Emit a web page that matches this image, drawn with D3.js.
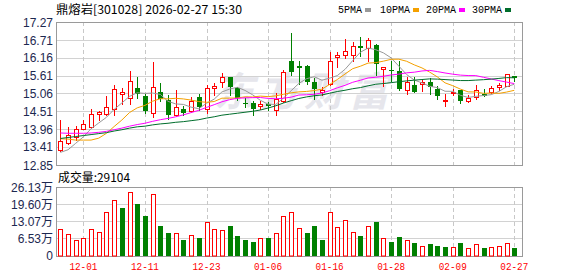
<!DOCTYPE html>
<html>
<head>
<meta charset="utf-8">
<script src="https://cdn.jsdelivr.net/npm/d3@7/dist/d3.min.js"></script>
<style>
  body { margin: 0; background: #fff; }
  svg { display: block; }
</style>
</head>
<body>
<svg id="chart" width="578" height="276"></svg>
<script>
// ---- data ----
const dates = ["11-26","11-27","11-28","12-01","12-02","12-03","12-04","12-05","12-08","12-09",
  "12-10","12-11","12-12","12-15","12-16","12-17","12-18","12-19","12-22","12-23",
  "12-24","12-25","12-26","12-29","12-30","12-31","01-05","01-06","01-07","01-08",
  "01-09","01-12","01-13","01-14","01-15","01-16","01-19","01-20","01-21","01-22",
  "01-23","01-26","01-27","01-28","01-29","01-30","02-02","02-03","02-04","02-05",
  "02-06","02-09","02-10","02-11","02-12","02-13","02-24","02-25","02-26","02-27"];

const opens = [13.31,13.53,13.72,13.96,14.02,14.42,14.42,14.57,15.05,14.91,
  15.22,14.98,14.47,15.11,14.87,14.38,14.58,14.52,14.95,14.58,
  15.22,15.40,15.56,15.23,14.77,14.76,14.68,14.74,14.54,14.82,
  16.07,15.92,15.91,15.40,15.12,15.34,16.19,16.24,16.24,16.52,
  16.48,16.55,15.82,15.80,15.76,15.16,15.33,15.35,15.40,15.21,
  14.82,15.06,15.18,14.82,14.95,15.04,15.10,15.25,15.28,15.60];
const highs = [14.24,14.03,14.06,14.24,14.59,14.52,14.98,15.31,15.23,15.76,
  15.58,15.04,16.03,15.38,15.01,15.18,14.68,14.96,15.03,15.33,
  15.37,15.70,15.58,15.25,14.92,14.84,14.84,14.79,15.08,15.79,
  16.92,16.07,15.94,15.54,15.26,16.33,16.33,16.74,16.65,16.82,
  16.77,16.58,15.87,16.05,16.05,15.58,15.58,15.48,15.54,15.28,
  15.04,15.20,15.18,15.00,15.31,15.20,15.28,15.39,15.65,15.60];
const lows = [13.28,13.50,13.61,13.96,14.00,14.24,14.41,14.38,14.74,14.75,
  14.93,14.46,14.33,14.82,14.28,14.36,14.41,14.50,14.56,14.46,
  15.00,15.27,15.01,14.87,14.64,14.38,14.59,14.56,14.41,14.80,
  15.62,15.36,15.36,14.88,15.00,15.32,15.88,16.15,16.07,16.22,
  16.08,15.64,15.30,15.44,15.16,15.04,15.12,15.13,15.04,14.90,
  14.68,15.00,14.78,14.79,14.88,14.99,15.08,15.18,15.28,15.45];
const closes = [13.59,13.77,13.96,14.12,14.42,14.48,14.64,15.19,15.11,15.44,
  15.04,14.53,15.25,14.89,14.38,14.64,14.45,14.83,14.65,15.22,
  15.28,15.56,15.27,14.93,14.74,14.59,14.72,14.67,14.89,15.72,
  15.73,15.84,15.41,15.19,15.18,16.05,16.24,16.37,16.54,16.48,
  16.70,15.98,15.87,15.77,15.20,15.42,15.12,15.43,15.25,14.99,
  14.86,15.10,14.82,14.92,15.16,14.99,15.23,15.32,15.65,15.54];

// volume in 万 shares, and whether the bar is drawn as an up (red) day
const volumes = [10.25,8.2,6.1,6.5,10.25,9.1,16.7,21.3,18.2,24.3,
  19.7,15.2,23.5,11.4,8.7,8.7,6.1,8.0,6.8,12.9,
  10.25,9.9,11.4,7.6,6.1,5.3,6.5,6.5,8.7,15.2,
  16.7,10.5,8.7,11.4,6.1,16.7,11.0,13.7,9.1,7.6,
  11.4,12.9,6.8,5.3,7.2,6.1,4.6,3.8,4.2,3.8,
  3.4,3.4,4.6,2.7,4.2,2.7,3.4,3.8,4.9,2.9104];
const volUp = [1,1,1,1,1,1,1,1,0,1, 0,0,1,0,0,1,0,1,0,1,
  1,1,0,0,0,0,1,0,1,1, 1,1,0,0,0,1,1,1,1,0,
  1,0,1,0,0,1,0,1,0,0, 0,1,0,1,1,0,1,1,1,0];

// moving average values before a full window exists (history off-screen)
const ma5Lead = [13.24,13.32,13.52,13.72];
const ma10Lead = [13.66,13.65,13.62,13.62,13.62,13.68,13.83,14.04,14.24];
const ma20Lead = [13.84,13.83,13.83,13.83,13.84,13.86,13.89,13.94,13.99,14.05,
  14.10,14.14,14.20,14.25,14.29,14.34,14.40,14.47,14.54];
const ma30Lead = [13.67,13.70,13.73,13.76,13.79,13.82,13.85,13.90,13.94,13.99,
  14.03,14.05,14.09,14.12,14.14,14.17,14.19,14.22,14.25,14.30,
  14.34,14.39,14.42,14.45,14.48,14.51,14.55,14.61,14.68];

const priceTicks = [17.27,16.71,16.16,15.61,15.06,14.51,13.96,13.41,12.85];
const volTicks = [0,6.53,13.07,19.60,26.13];
const dateTicks = ["12-01","12-11","12-23","01-06","01-16","01-28","02-09","02-27"];

const title = "鼎熔岩[301028] 2026-02-27 15:30";
const volTitle = "成交量:29104";
const maNames = ["5PMA","10PMA","20PMA","30PMA"];

// ---- layout ----
const RED = "#ff0000", GREEN = "#008000";
const maColors = ["#999999","#f4a000","#ff00ff","#006d2c"];
const plot = {left: 56, right: 522, top: 22, bottom: 165};
const vplot = {top: 187, bottom: 255.5};

const svg = d3.select("#chart");

const x = d3.scalePoint().domain(dates).range([plot.left + 4.3, plot.right - 7.7]);
const y = d3.scaleLinear().domain([12.85, 17.27]).range([plot.bottom, plot.top]);
const yv = d3.scaleLinear().domain([0, 26.13]).range([vplot.bottom, vplot.top]);

const px = d => Math.round(x(d));
const snap = v => Math.round(v) + 0.5;

// watermark
svg.append("text")
    .attr("x", 214).attr("y", 106)
    .attr("font-family", "Noto Sans CJK SC")
    .attr("font-size", 40)
    .attr("font-weight", "bold")
    .attr("font-style", "italic")
    .attr("letter-spacing", 5)
    .attr("fill", "#e6e6ec")
    .text("东方财富");

// grids
function drawGrid(top, bottom, ticks, scale) {
    svg.append("g").selectAll("line")
        .data(ticks.slice(1, -1))
        .join("line")
        .attr("x1", plot.left).attr("x2", plot.right)
        .attr("y1", d => snap(scale(d))).attr("y2", d => snap(scale(d)))
        .attr("stroke", "#d2d2d2");
    svg.append("g").selectAll("line")
        .data(dateTicks)
        .join("line")
        .attr("x1", d => px(d) + 0.5).attr("x2", d => px(d) + 0.5)
        .attr("y1", top).attr("y2", bottom)
        .attr("stroke", "#c8c8c8")
        .attr("stroke-dasharray", "4,3");
    svg.append("rect")
        .attr("x", plot.left + 0.5).attr("y", Math.round(top) + 0.5)
        .attr("width", plot.right - plot.left)
        .attr("height", Math.round(bottom) - Math.round(top))
        .attr("fill", "none")
        .attr("stroke", "#9a9a9a");
}
drawGrid(plot.top, plot.bottom, priceTicks, y);
drawGrid(vplot.top, vplot.bottom, volTicks.slice().reverse(), yv);

// axis labels
const labelFont = "Liberation Sans, Arial, sans-serif";
svg.append("g").selectAll("text")
    .data(priceTicks)
    .join("text")
    .attr("x", 53).attr("y", d => y(d) + 4.5)
    .attr("text-anchor", "end")
    .attr("font-family", labelFont).attr("font-size", 12)
    .attr("fill", "#1c2850")
    .text(d => d.toFixed(2));

svg.append("g").selectAll("text")
    .data(volTicks)
    .join("text")
    .attr("x", 53).attr("y", d => yv(d) + 4.5)
    .attr("text-anchor", "end")
    .attr("font-family", labelFont + ", Noto Sans CJK SC").attr("font-size", 12)
    .attr("fill", "#1c2850")
    .text(d => d === 0 ? "0" : d.toFixed(2) + "万");

svg.append("g").selectAll("text")
    .data(dateTicks)
    .join("text")
    .attr("x", d => x(d)).attr("y", 270)
    .attr("text-anchor", "middle")
    .attr("font-family", "Liberation Mono, monospace").attr("font-size", 11)
    .attr("textLength", 28).attr("lengthAdjust", "spacingAndGlyphs")
    .attr("fill", RED)
    .text(d => d);

// header and legend
svg.append("text")
    .attr("x", 56).attr("y", 14)
    .attr("font-family", "Noto Sans CJK SC, sans-serif").attr("font-size", 12)
    .attr("textLength", 186).attr("lengthAdjust", "spacingAndGlyphs")
    .text(title);

svg.append("text")
    .attr("x", 58).attr("y", 182)
    .attr("font-family", "Noto Sans CJK SC, sans-serif").attr("font-size", 12)
    .attr("textLength", 72).attr("lengthAdjust", "spacingAndGlyphs")
    .text(volTitle);

const legendX = [338, 380, 426, 472];
const legend = svg.append("g").selectAll("g")
    .data(maNames)
    .join("g");
legend.append("text")
    .attr("x", (d, i) => legendX[i]).attr("y", 13)
    .attr("font-family", "Liberation Mono, monospace").attr("font-size", 10)
    .text(d => d);
legend.append("rect")
    .attr("x", (d, i) => legendX[i] + d.length * 6 + 3).attr("y", 8)
    .attr("width", 6).attr("height", 4)
    .attr("fill", (d, i) => maColors[i]);

// volume bars
const bars = d3.range(dates.length).map(i => ({d: dates[i], v: volumes[i], up: volUp[i] === 1}));
svg.append("g").selectAll("rect")
    .data(bars)
    .join("rect")
    .attr("x", b => b.up ? px(b.d) - 1.5 : px(b.d) - 2)
    .attr("width", b => b.up ? 4 : 5)
    .attr("y", b => b.up ? Math.round(yv(b.v)) + 0.5 : Math.round(yv(b.v)))
    .attr("height", b => Math.round(vplot.bottom) - Math.round(yv(b.v)) - (b.up ? 0.5 : 0))
    .attr("fill", b => b.up ? "#fff" : GREEN)
    .attr("stroke", b => b.up ? RED : "none");

// candles
const candles = d3.range(dates.length).map(i => ({
    d: dates[i], o: opens[i], h: highs[i], l: lows[i], c: closes[i], up: closes[i] >= opens[i]
}));
const kg = svg.append("g").selectAll("g")
    .data(candles)
    .join("g");

kg.append("line")
    .attr("x1", k => px(k.d) + 0.5).attr("x2", k => px(k.d) + 0.5)
    .attr("y1", k => Math.round(y(k.h)))
    .attr("y2", k => k.up ? Math.round(y(k.c)) : Math.round(y(k.l)) + 1)
    .attr("stroke", k => k.up ? RED : GREEN);
kg.filter(k => k.up).append("line")
    .attr("x1", k => px(k.d) + 0.5).attr("x2", k => px(k.d) + 0.5)
    .attr("y1", k => Math.round(y(k.o)))
    .attr("y2", k => Math.round(y(k.l)) + 1)
    .attr("stroke", RED);

kg.append("rect")
    .attr("x", k => k.up ? px(k.d) - 1.5 : px(k.d) - 2)
    .attr("width", k => k.up ? 4 : 5)
    .attr("y", k => Math.round(y(Math.max(k.o, k.c))) + (k.up ? 0.5 : 0))
    .attr("height", k => Math.max(Math.round(y(Math.min(k.o, k.c))) - Math.round(y(Math.max(k.o, k.c))), 1))
    .attr("fill", k => k.up ? "#fff" : GREEN)
    .attr("stroke", k => k.up ? RED : "none");

// moving averages
function movingAverage(n, lead) {
    return closes.map((c, i) => i < n - 1 ? lead[i] : d3.mean(closes.slice(i - n + 1, i + 1)));
}
const maSeries = [movingAverage(5, ma5Lead), movingAverage(10, ma10Lead),
                  movingAverage(20, ma20Lead), movingAverage(30, ma30Lead)];
const line = d3.line()
    .x((v, i) => x(dates[i]))
    .y(v => y(v));
svg.append("g").selectAll("path")
    .data(maSeries)
    .join("path")
    .attr("d", s => line(s))
    .attr("fill", "none")
    .attr("stroke", (s, i) => maColors[i])
    .attr("stroke-width", 1);
</script>
</body>
</html>
